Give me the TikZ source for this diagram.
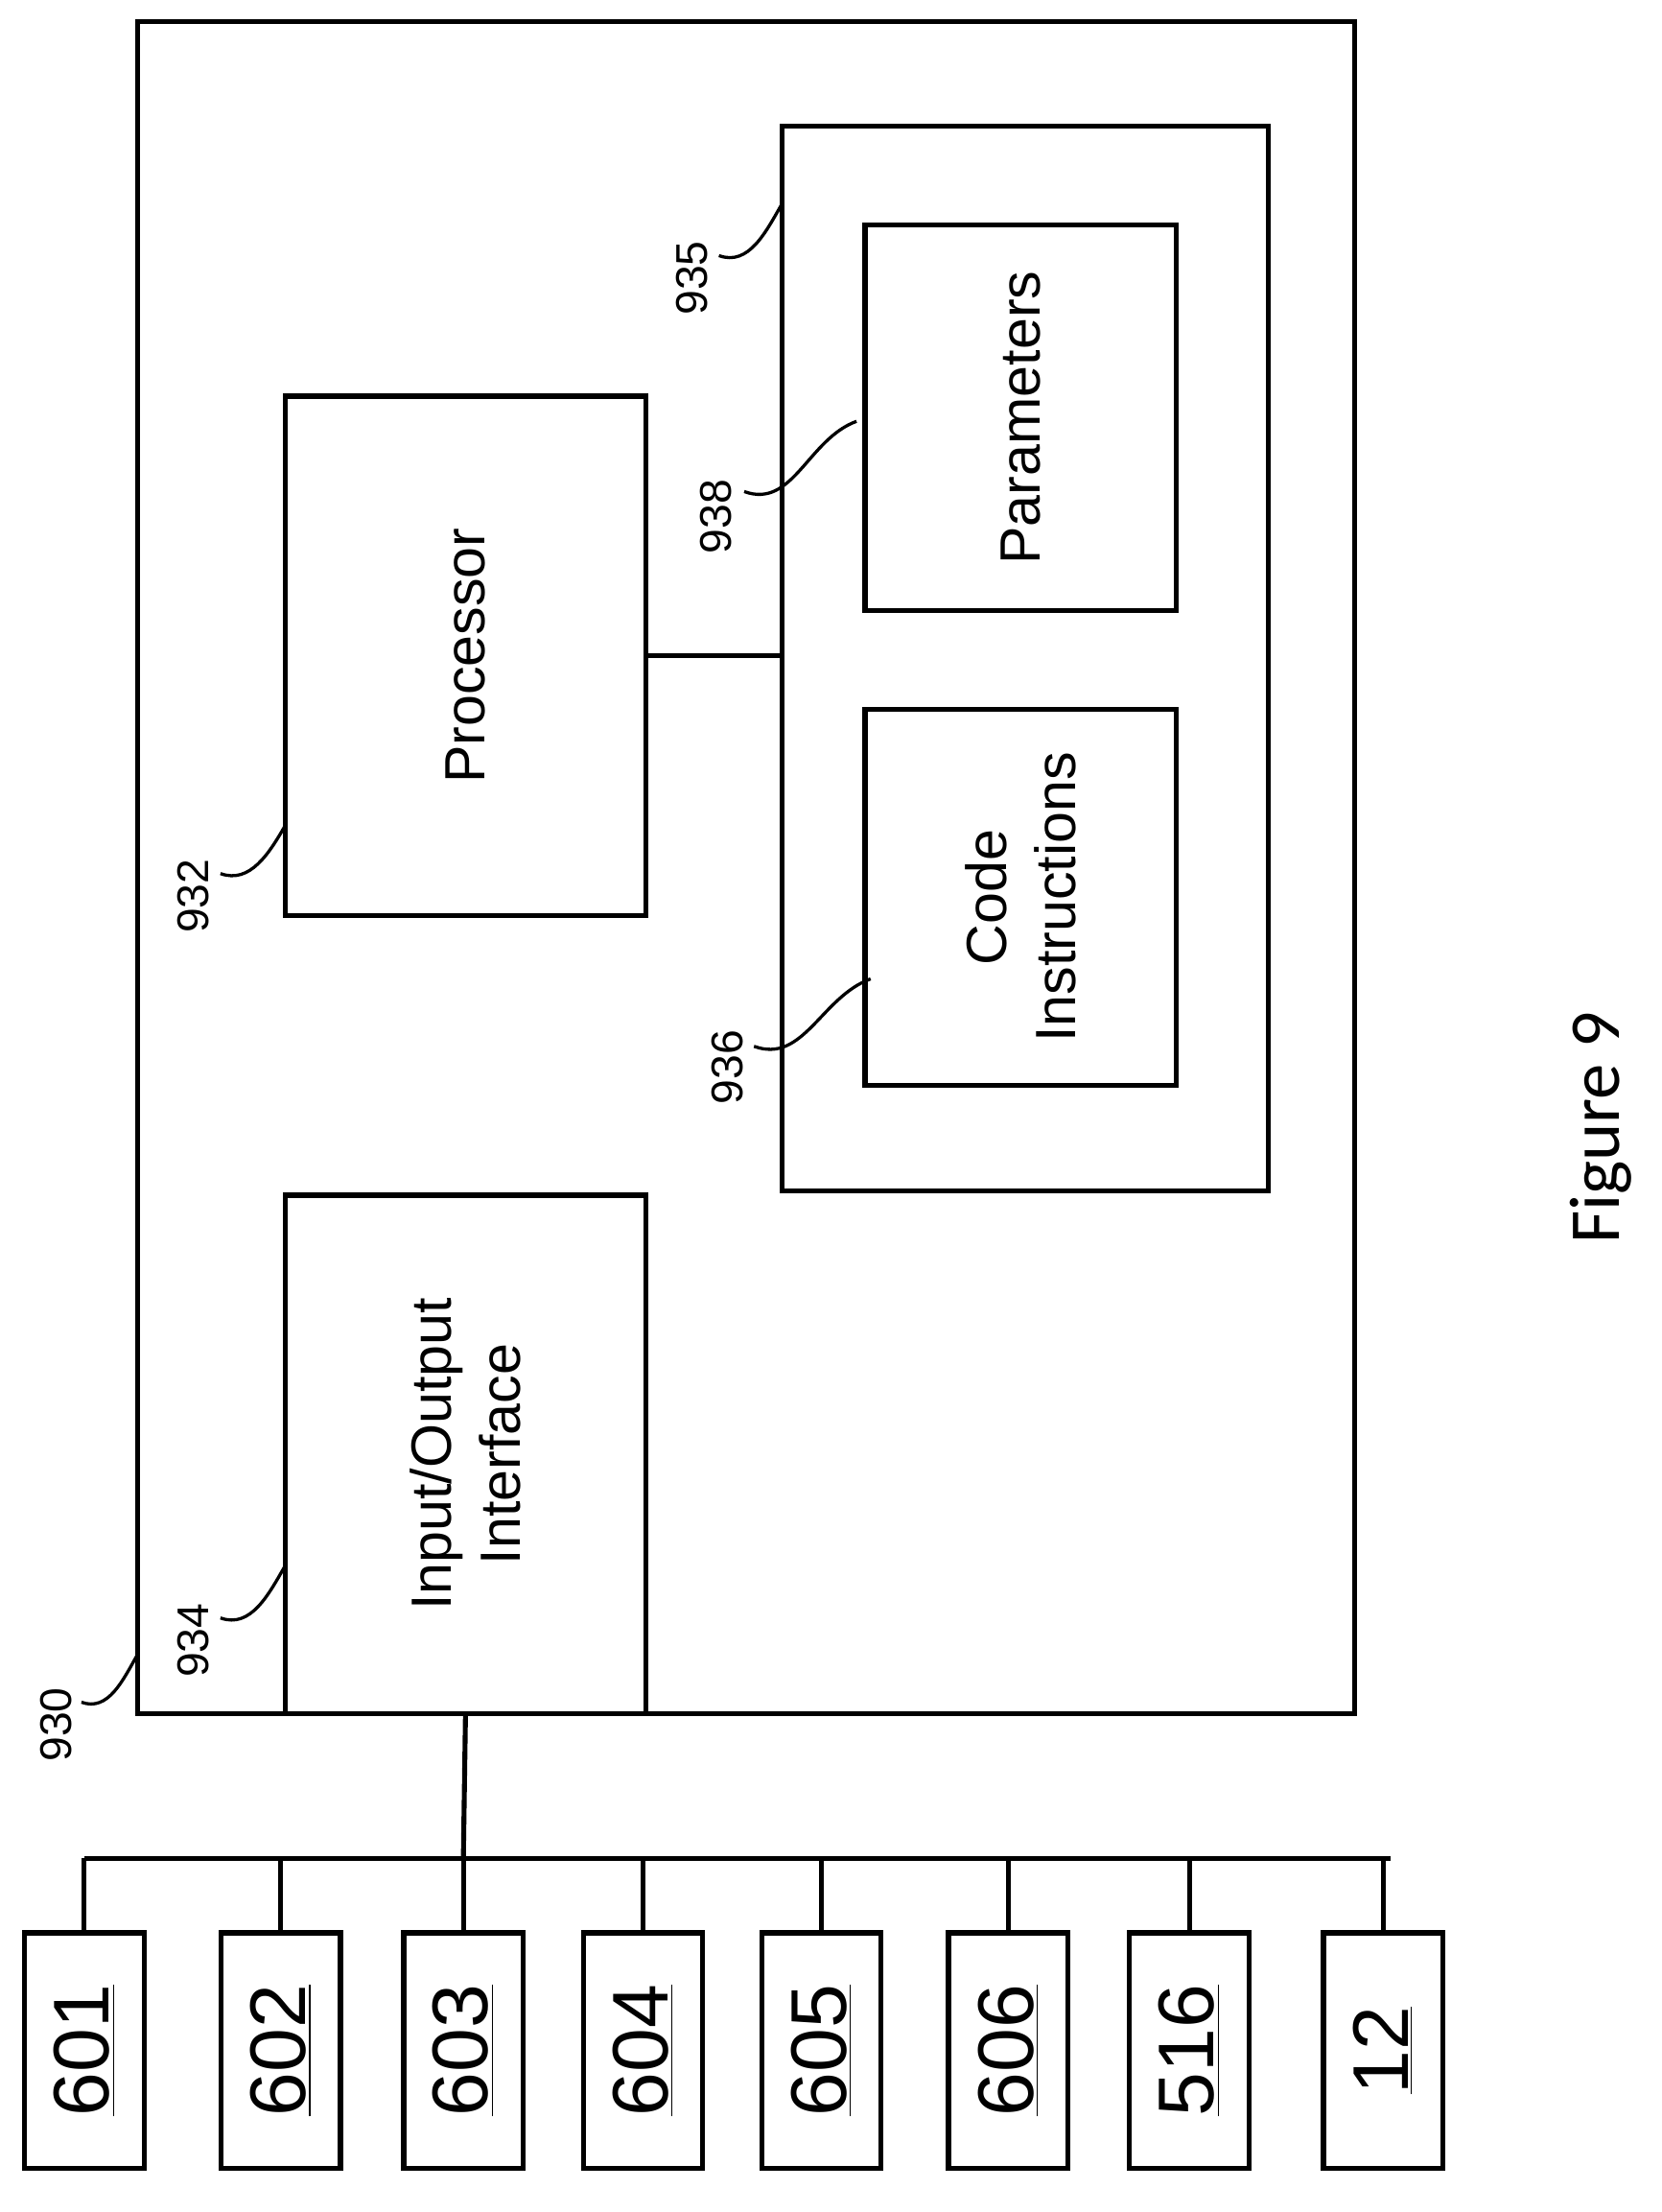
\documentclass[tikz,border=0pt]{standalone}
\usepackage{fontspec}
\setmainfont{Liberation Sans}
\newfontfamily\figfont{Carlito}
\usetikzlibrary{positioning}

\begin{document}
\begin{tikzpicture}
    [
        x=0.02cm, y=-0.02cm, line width=1.1mm,
        box/.style={draw=black, thick, line width=0.7mm, inner sep=0pt},
        dev/.style={box, minimum width=1.7cm, minimum height=3.35cm},
        txt/.style={rotate=90, align=center, font=\fontsize{23}{28}\selectfont},
        devtxt/.style={rotate=90, font=\fontsize{32}{36}\selectfont},
        ref/.style={rotate=90, font=\fontsize{18}{20}\selectfont},
        lead/.style={line width=0.45mm},
    ]
        \useasboundingbox (0,0) rectangle (1183,1575);
        % main blocks
        \node[box, minimum width=17.34cm, minimum height=24.1cm] (sys) at (531.5,617.5) {};
        \node[box, minimum width=5.14cm, minimum height=7.4cm] (proc) at (331.5,467) {};
        \node[txt] at (proc) {Processor};
        \node[box, minimum width=5.14cm, minimum height=7.38cm] (io) at (331.5,1035.5) {};
        \node[txt] at (io) {Input/Output\\Interface};
        \node[box, minimum width=6.92cm, minimum height=15.16cm] (mem) at (730,469) {};
        \node[box, minimum width=4.44cm, minimum height=5.5cm] (par) at (727,297.5) {};
        \node[txt] at (par) {Parameters};
        \node[box, minimum width=4.44cm, minimum height=5.36cm] (code) at (727,639) {};
        \node[txt] at (code) {Code\\Instructions};
        % links
        \draw[line width=0.7mm] (proc.east) -- (proc.east -| mem.west);
        \coordinate (bus) at (330,1323);
        \draw[line width=0.7mm] (io.south) -- (bus);
        \draw[line width=0.7mm] (60,1323) -- (990,1323);
        % devices
        \foreach \x/\n in {60/601, 200/602, 330/603, 458/604, 585/605, 718/606, 847/516, 985/12} {
            \node[dev] (d\n) at (\x,1460) {};
            \node[devtxt] at (d\n) {\underline{\n}};
            \draw[line width=0.7mm] (\x,1323) -- (d\n.north);
        }
        % reference numerals
        \node[ref] (r930) at (40,1228) {930};
        \draw[lead] (58,1212) to[out=-20, in=240] (98,1178);
        \node[ref] (r934) at (138,1168) {934};
        \draw[lead] (157,1152) to[out=-20, in=240] (203,1115);
        \node[ref] (r932) at (138,638) {932};
        \draw[lead] (157,622) to[out=-20, in=240] (203,588);
        \node[ref] (r935) at (493,198) {935};
        \draw[lead] (512,182) to[out=-20, in=240] (557,145);
        \node[ref] (r938) at (510,368) {938};
        \draw[lead] (530,350) to[out=-20, in=200] (610,300);
        \node[ref] (r936) at (518,760) {936};
        \draw[lead] (537,745) to[out=-20, in=200] (620,697);
        \node[rotate=90, font=\figfont\fontsize{29}{34}\selectfont] (fig) at (1140,803) {Figure 9};
    \end{tikzpicture}
\end{document}
